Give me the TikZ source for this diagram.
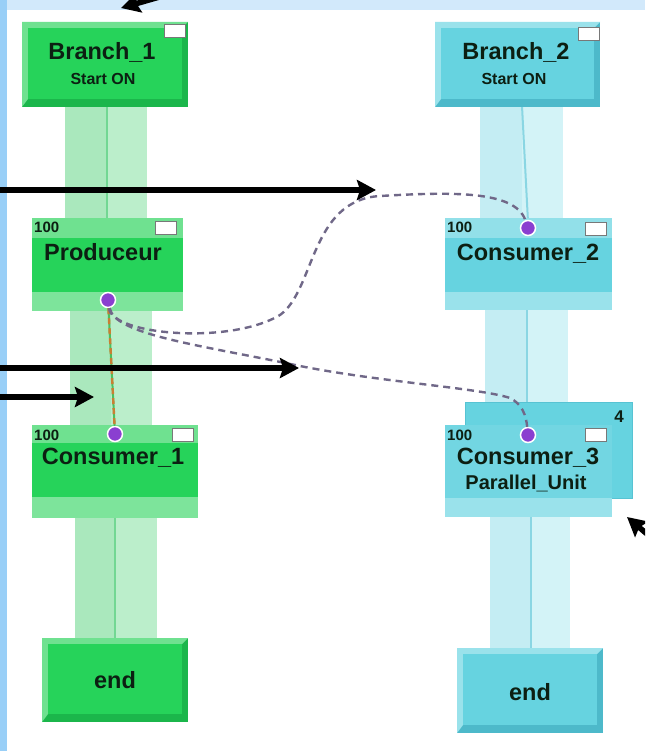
\documentclass[tikz,border=0pt]{standalone}
\usepackage{fontspec}
\setmainfont{Liberation Sans}
\usetikzlibrary{arrows.meta}
\definecolor{bgtop}{HTML}{D2E9FB}
\definecolor{bgleft}{HTML}{99CFF7}
\definecolor{gface}{HTML}{26D35A}
\definecolor{glight}{HTML}{6FE190}
\definecolor{gdark}{HTML}{1BB64B}
\definecolor{gstripL}{HTML}{AAE8BD}
\definecolor{gstripR}{HTML}{BBEECB}
\definecolor{gline}{HTML}{72D793}
\definecolor{cface}{HTML}{66D3E0}
\definecolor{clight}{HTML}{9AE2EB}
\definecolor{cdark}{HTML}{4DB9CA}
\definecolor{cstripL}{HTML}{C4EDF3}
\definecolor{cstripR}{HTML}{D3F3F7}
\definecolor{cline}{HTML}{8AD6E3}
\definecolor{dotc}{HTML}{8A3FD0}
\definecolor{dashc}{HTML}{706888}
\definecolor{orangec}{HTML}{C97F33}
\definecolor{greenl}{HTML}{4CBF5E}
\definecolor{txtc}{HTML}{0C1F12}
\newcommand\bevbox[7]{%
  \fill[#7] (#1,#2) rectangle (#3,#4);
  \fill[#6] (#1,#2) -- (#3,#2) -- (#3-6,#2+6) -- (#1+6,#2+6) -- (#1+6,#4-8) -- (#1,#4) -- cycle;
  \fill[#5] (#1+6,#2+6) rectangle (#3-6,#4-8);
}
\newcommand\strip[6]{% x1 y1 x2 y2 left right
  \fill[#5] (#1,#2) rectangle ({(#1+#3)/2},#4);
  \fill[#6] ({(#1+#3)/2},#2) rectangle (#3,#4);
}
\begin{document}
\begin{tikzpicture}[x=1pt,y=-1pt,
  big/.style={font=\bfseries\fontsize{23.5}{24}\selectfont, text=txtc, inner sep=0pt, anchor=base},
  mid/.style={font=\bfseries\fontsize{20}{20}\selectfont, text=txtc, inner sep=0pt, anchor=base},
  small/.style={font=\bfseries\fontsize{16}{16}\selectfont, text=txtc, inner sep=0pt, anchor=base},
  num/.style={font=\bfseries\fontsize{15}{15}\selectfont, text=txtc, inner sep=0pt, anchor=base west},
  wsq/.style={draw={rgb,255:red,120;green,120;blue,120}, fill=white, line width=1.2pt, minimum width=21pt, minimum height=13pt, inner sep=0pt},
  dot/.style={circle, fill=dotc, draw=white, line width=1.5pt, minimum size=15pt, inner sep=0pt},
  dashconn/.style={draw=dashc, line width=2.4pt, dash pattern=on 7pt off 5pt},
  bigarrow/.style={line width=5.5pt, -{Stealth[length=19pt,width=20pt,inset=3pt]}},
]
\useasboundingbox (0,0) rectangle (645,751);
\clip (0,0) rectangle (645,751);
% background
\fill[white] (0,0) rectangle (645,751);
\fill[bgtop] (0,0) rectangle (645,10);
\fill[bgleft] (0,0) rectangle (7,751);

% ---------- green column ----------
\strip{65}{106}{147}{218}{gstripL}{gstripR}
\draw[gline, line width=2pt] (107,106) -- (107,218);
\strip{70}{311}{152}{425}{gstripL}{gstripR}
\strip{75}{518}{157}{638}{gstripL}{gstripR}
\draw[gline, line width=2pt] (115,518) -- (115,638);

\bevbox{22}{22}{188}{107}{gface}{glight}{gdark}
\node[wsq] (sqb1) at (175,31) {};
\node[big] (tb1) at (102,60) {Branch\_1};
\node[small] (sb1) at (103,85) {Start ON};

% Produceur
\fill[glight] (32,218) rectangle (183,238);
\fill[gface] (32,238) rectangle (183,292);
\fill[glight!90!white] (32,292) rectangle (183,311);
\node[wsq] (sqp) at (166,228) {};
\node[num] (np) at (34,233) {100};
\node[big] (tp) at (103,260) {Produceur};

% Consumer_1
\fill[glight] (32,425) rectangle (198,443);
\fill[gface] (32,443) rectangle (198,497);
\fill[glight!90!white] (32,497) rectangle (198,518);
\node[wsq] (sqc1) at (183,435) {};
\node[num] (nc1) at (34,440) {100};
\node[big] (tc1) at (113,464) {Consumer\_1};

% end green
\bevbox{42}{638}{188}{722}{gface}{glight}{gdark}
\node[big] (te1) at (115,688) {end};

% ---------- cyan column ----------
\strip{480}{106}{563}{218}{cstripL}{cstripR}
\draw[cline, line width=2pt] (522,106) -- (528,222);
\strip{485}{310}{568}{402}{cstripL}{cstripR}
\draw[cline, line width=2pt] (527,310) -- (527,402);
\strip{490}{517}{570}{648}{cstripL}{cstripR}
\draw[cline, line width=2pt] (531,517) -- (531,648);

\bevbox{435}{22}{600}{107}{cface}{clight}{cdark}
\node[wsq] (sqb2) at (589,34) {};
\node[big] (tb2) at (516,60) {Branch\_2};
\node[small] (sb2) at (514,85) {Start ON};

% Consumer_2
\fill[clight!85!cface] (445,218) rectangle (612,238);
\fill[cface] (445,238) rectangle (612,292);
\fill[clight] (445,292) rectangle (612,310);
\node[wsq] (sqc2) at (596,229) {};
\node[num] (nc2) at (447,233) {100};
\node[big] (tc2) at (528,260) {Consumer\_2};

% Consumer_3
\fill[cface] (465,402) rectangle (632,498);
\fill[cface!92!white] (445,425) rectangle (612,498);
\fill[clight] (445,498) rectangle (612,517);
\draw[cdark!60!cface, line width=0.8pt] (465,425) -- (465,402) -- (632,402) -- (632,498) -- (612,498);
\node[wsq] (sqc3) at (596,435) {};
\node[num] (nc3) at (447,440) {100};
\node[font=\bfseries\fontsize{17}{17}\selectfont, text=txtc, inner sep=0pt, anchor=base] (four) at (619,422) {4};
\node[big] (tc3) at (528,464) {Consumer\_3};
\node[mid] (tpu) at (526,489) {Parallel\_Unit};

% end cyan
\bevbox{457}{648}{603}{733}{cface}{clight}{cdark}
\node[big] (te2) at (530,700) {end};

% ---------- dots ----------
\node[dot] (dP) at (108,300) {};
\node[dot] (dC1) at (115,434) {};
\node[dot] (dC2) at (528,228) {};
\node[dot] (dC3) at (528,435) {};

% ---------- connectors ----------
\draw[greenl, line width=2pt] (dP) -- (dC1);
\draw[orangec, line width=2.4pt, dash pattern=on 6pt off 4pt] (dP) -- (dC1);

\draw[dashconn] (dP) .. controls (112,335) and (230,345) .. (280,315)
  .. controls (315,290) and (310,200) .. (380,196)
  .. controls (450,192) and (515,190) .. (dC2);

\draw[dashconn] (dP) .. controls (115,335) and (200,345) .. (300,366)
  .. controls (380,382) and (480,388) .. (510,398)
  .. controls (522,404) and (526,415) .. (dC3);

% ---------- black arrows ----------
\coordinate (a1s) at (-5,190);
\coordinate (a1e) at (376,190);
\coordinate (a2s) at (-5,368);
\coordinate (a2e) at (299,368);
\coordinate (a3s) at (-5,397);
\coordinate (a3e) at (94,397);
\coordinate (a4s) at (170,-6);
\coordinate (a4e) at (121,8);
\coordinate (a5s) at (660,545);
\coordinate (a5e) at (627,517);
\draw[bigarrow] (a1s) -- (a1e);
\draw[bigarrow] (a2s) -- (a2e);
\draw[bigarrow] (a3s) -- (a3e);
\draw[bigarrow] (a4s) -- (a4e);
\draw[bigarrow] (a5s) -- (a5e);
\end{tikzpicture}
\end{document}
